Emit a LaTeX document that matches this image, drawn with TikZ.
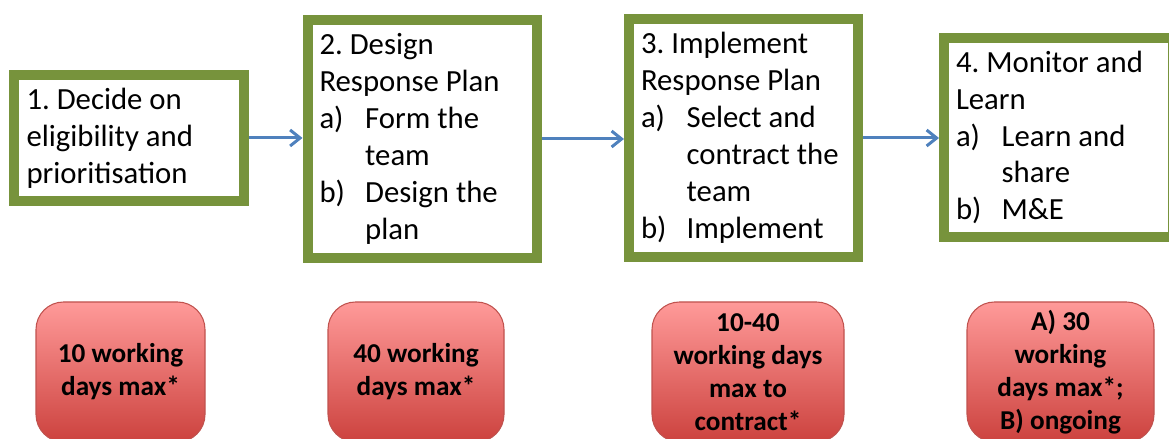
\documentclass[tikz,border=0pt]{standalone}
\usepackage{fontspec}
\setmainfont{Carlito}
\usepackage{xcolor}
\usepackage{tikz}
\usetikzlibrary{arrows.meta}

\definecolor{phasegreen}{RGB}{119,147,60}
\definecolor{flowblue}{RGB}{79,129,189}
\definecolor{timetop}{RGB}{255,154,153}
\definecolor{timebottom}{RGB}{204,66,62}
\definecolor{timeedge}{RGB}{192,82,78}

% hanging sub-step inside a phase box
\newlength{\phaseindent}
\setlength{\phaseindent}{26pt}
\newcommand{\phaseitem}[2]{\par\hangindent=\phaseindent\hangafter=1\noindent\makebox[\phaseindent][l]{#1}#2\par}

\frenchspacing

\begin{document}
\begin{tikzpicture}[
  phase/.style={rectangle, draw=phasegreen, line width=0.2cm, fill=white, text width=4.1cm, inner xsep=0.24cm, align=flush left, font=\fontsize{17.5pt}{21pt}\selectfont},
  timebox/.style={rectangle, rounded corners=0.55cm, draw=timeedge, line width=0.6pt, top color=timetop, bottom color=timebottom, minimum height=2.8cm, align=center, font=\fontsize{15.5pt}{18.7pt}\selectfont\bfseries},
  flow/.style={draw=flowblue, line width=0.06cm, -{Straight Barb[length=0.2cm, width=0.32cm]}}
]
\useasboundingbox (0,0) rectangle (23.38,8.78);

% phases
\node[phase, minimum height=2.52cm] (decide) at (2.58,6.02) {1. Decide on\\eligibility and\\prioritisation};

\node[phase, minimum height=4.76cm] (design) at (8.44,6.00) {2. Design\\Response Plan\phaseitem{a)}{Form the\newline team}\phaseitem{b)}{Design the\newline plan}};

\node[phase, minimum height=4.76cm] (implement) at (14.87,6.02) {3. Implement\\Response Plan\phaseitem{a)}{Select and\newline contract the\newline team}\phaseitem{b)}{Implement}};

\node[phase, minimum height=3.98cm] (monitor) at (21.17,6.03) {4. Monitor and\\Learn\phaseitem{a)}{Learn and\newline share}\phaseitem{b)}{M\&E}};

\draw[flow] (decide.east) -- (decide.east -| design.west);
\draw[flow] (design.east) -- (design.east -| implement.west);
\draw[flow] (implement.east) -- (implement.east -| monitor.west);

% time limits
\node[timebox, minimum width=3.38cm] (decidetime) at (2.41,1.34) {10 working\\days max*};
\node[timebox, minimum width=3.52cm] (designtime) at (8.32,1.34) {40 working\\days max*};
\node[timebox, minimum width=3.84cm] (implementtime) at (14.96,1.34) {10-40\\working days\\max to\\contract*};
\node[timebox, minimum width=3.74cm] (monitortime) at (21.21,1.34) {A) 30\\working\\days max*;\\B) ongoing};

\end{tikzpicture}
\end{document}
